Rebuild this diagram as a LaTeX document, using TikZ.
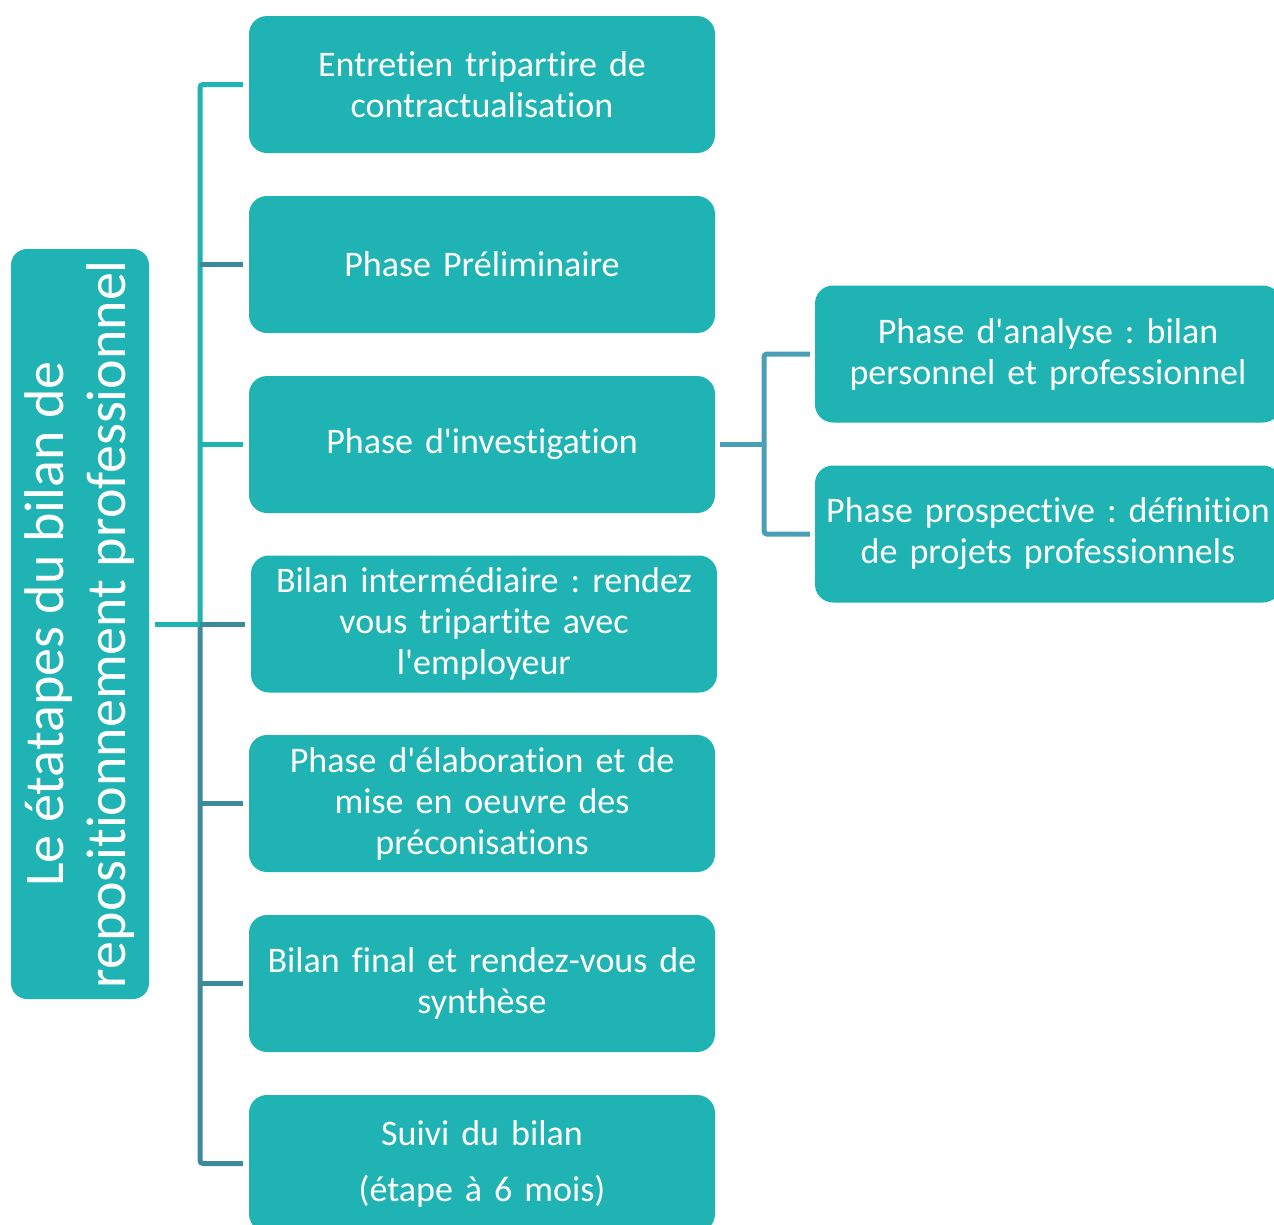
\documentclass[tikz,border=0pt]{standalone}
\usepackage{fontspec}
\setmainfont{Carlito}[Ligatures={NoCommon}]
\frenchspacing
\definecolor{boxfill}{RGB}{32,179,180}
\definecolor{darkln}{RGB}{60,138,156}
\definecolor{blueln}{RGB}{74,158,181}
\newcommand{\apo}{\textquotesingle}
\tikzset{
  stepbox/.style={draw=none, fill=boxfill, rounded corners=18pt, text=white,
    minimum width=466pt, minimum height=137pt, inner sep=0pt, align=center,
    text width=462pt, font=\fontsize{36}{41}\selectfont},
  tealln/.style={draw=boxfill, line width=5pt, rounded corners=3pt},
  darkline/.style={draw=darkln, line width=5pt, rounded corners=3pt},
  blueline/.style={draw=blueln, line width=5pt, rounded corners=3pt},
}
\begin{document}
\begin{tikzpicture}[x=1pt,y=-1pt]
\useasboundingbox (0,0) rectangle (1274,1224);
\clip (0,0) rectangle (1274,1224);
\fill[white] (0,0) rectangle (1274,1224);
% root
\node[fill=boxfill, rounded corners=16pt, text=white, rotate=90,
  minimum width=750pt, minimum height=138pt, inner sep=0pt, align=center,
  font=\fontsize{56}{62}\selectfont] (root) at (80,624)
  {Le étatapes du bilan de\\repositionnement professionnel};
% level 1 boxes
\node[stepbox] (b1) at (482,84.5) {Entretien tripartire de\\contractualisation};
\node[stepbox] (b2) at (482,264.5) {Phase Préliminaire};
\node[stepbox] (b3) at (482,444.5) {Phase d\apo investigation};
\node[stepbox] (b4) at (484,624) {Bilan intermédiaire : rendez\\vous tripartite avec\\l\apo employeur};
\node[stepbox] (b5) at (482,803.5) {Phase d\apo élaboration et de\\mise en oeuvre des\\préconisations};
\node[stepbox] (b6) at (482,983.5) {Bilan final et rendez-vous de\\synthèse};
\node[stepbox] (b7) at (482,1163.5) {Suivi du bilan\\[15pt](étape à 6 mois)};
% level 2 boxes
\node[stepbox] (c1) at (1048,354) {Phase d\apo analyse : bilan\\personnel et professionnel};
\node[stepbox] (c2) at (1048,534) {Phase prospective : définition\\de projets professionnels};
% spine coordinates
\coordinate (sp) at (200,0);
\coordinate (sq) at (764,0);
\coordinate (r0) at (155,624);
% left tree
\draw[tealln] ([xshift=-6pt]b1.west) -- (b1.west -| sp) -- (sp |- root.center);
\draw[darkline] (sp |- root.center) -- (sp |- b7.west) -- ([xshift=-6pt]b7.west);
\draw[tealln, rounded corners=0pt] (r0) -- (sp |- root.center);
\draw[darkline, rounded corners=0pt] (sp |- b2.west) -- ([xshift=-6pt]b2.west);
\draw[tealln, rounded corners=0pt] (sp |- b3.west) -- ([xshift=-6pt]b3.west);
\draw[darkline, rounded corners=0pt] (sp |- b4.west) -- ([xshift=-6pt]b4.west);
\draw[darkline, rounded corners=0pt] (sp |- b5.west) -- ([xshift=-6pt]b5.west);
\draw[darkline, rounded corners=0pt] (sp |- b6.west) -- ([xshift=-6pt]b6.west);
% right tree
\draw[blueline, rounded corners=0pt] ([xshift=5pt]b3.east) -- (sq |- b3.east);
\draw[blueline] ([xshift=-5pt]c1.west) -- (c1.west -| sq) -- (c2.west -| sq) -- ([xshift=-5pt]c2.west);
\end{tikzpicture}
\end{document}
